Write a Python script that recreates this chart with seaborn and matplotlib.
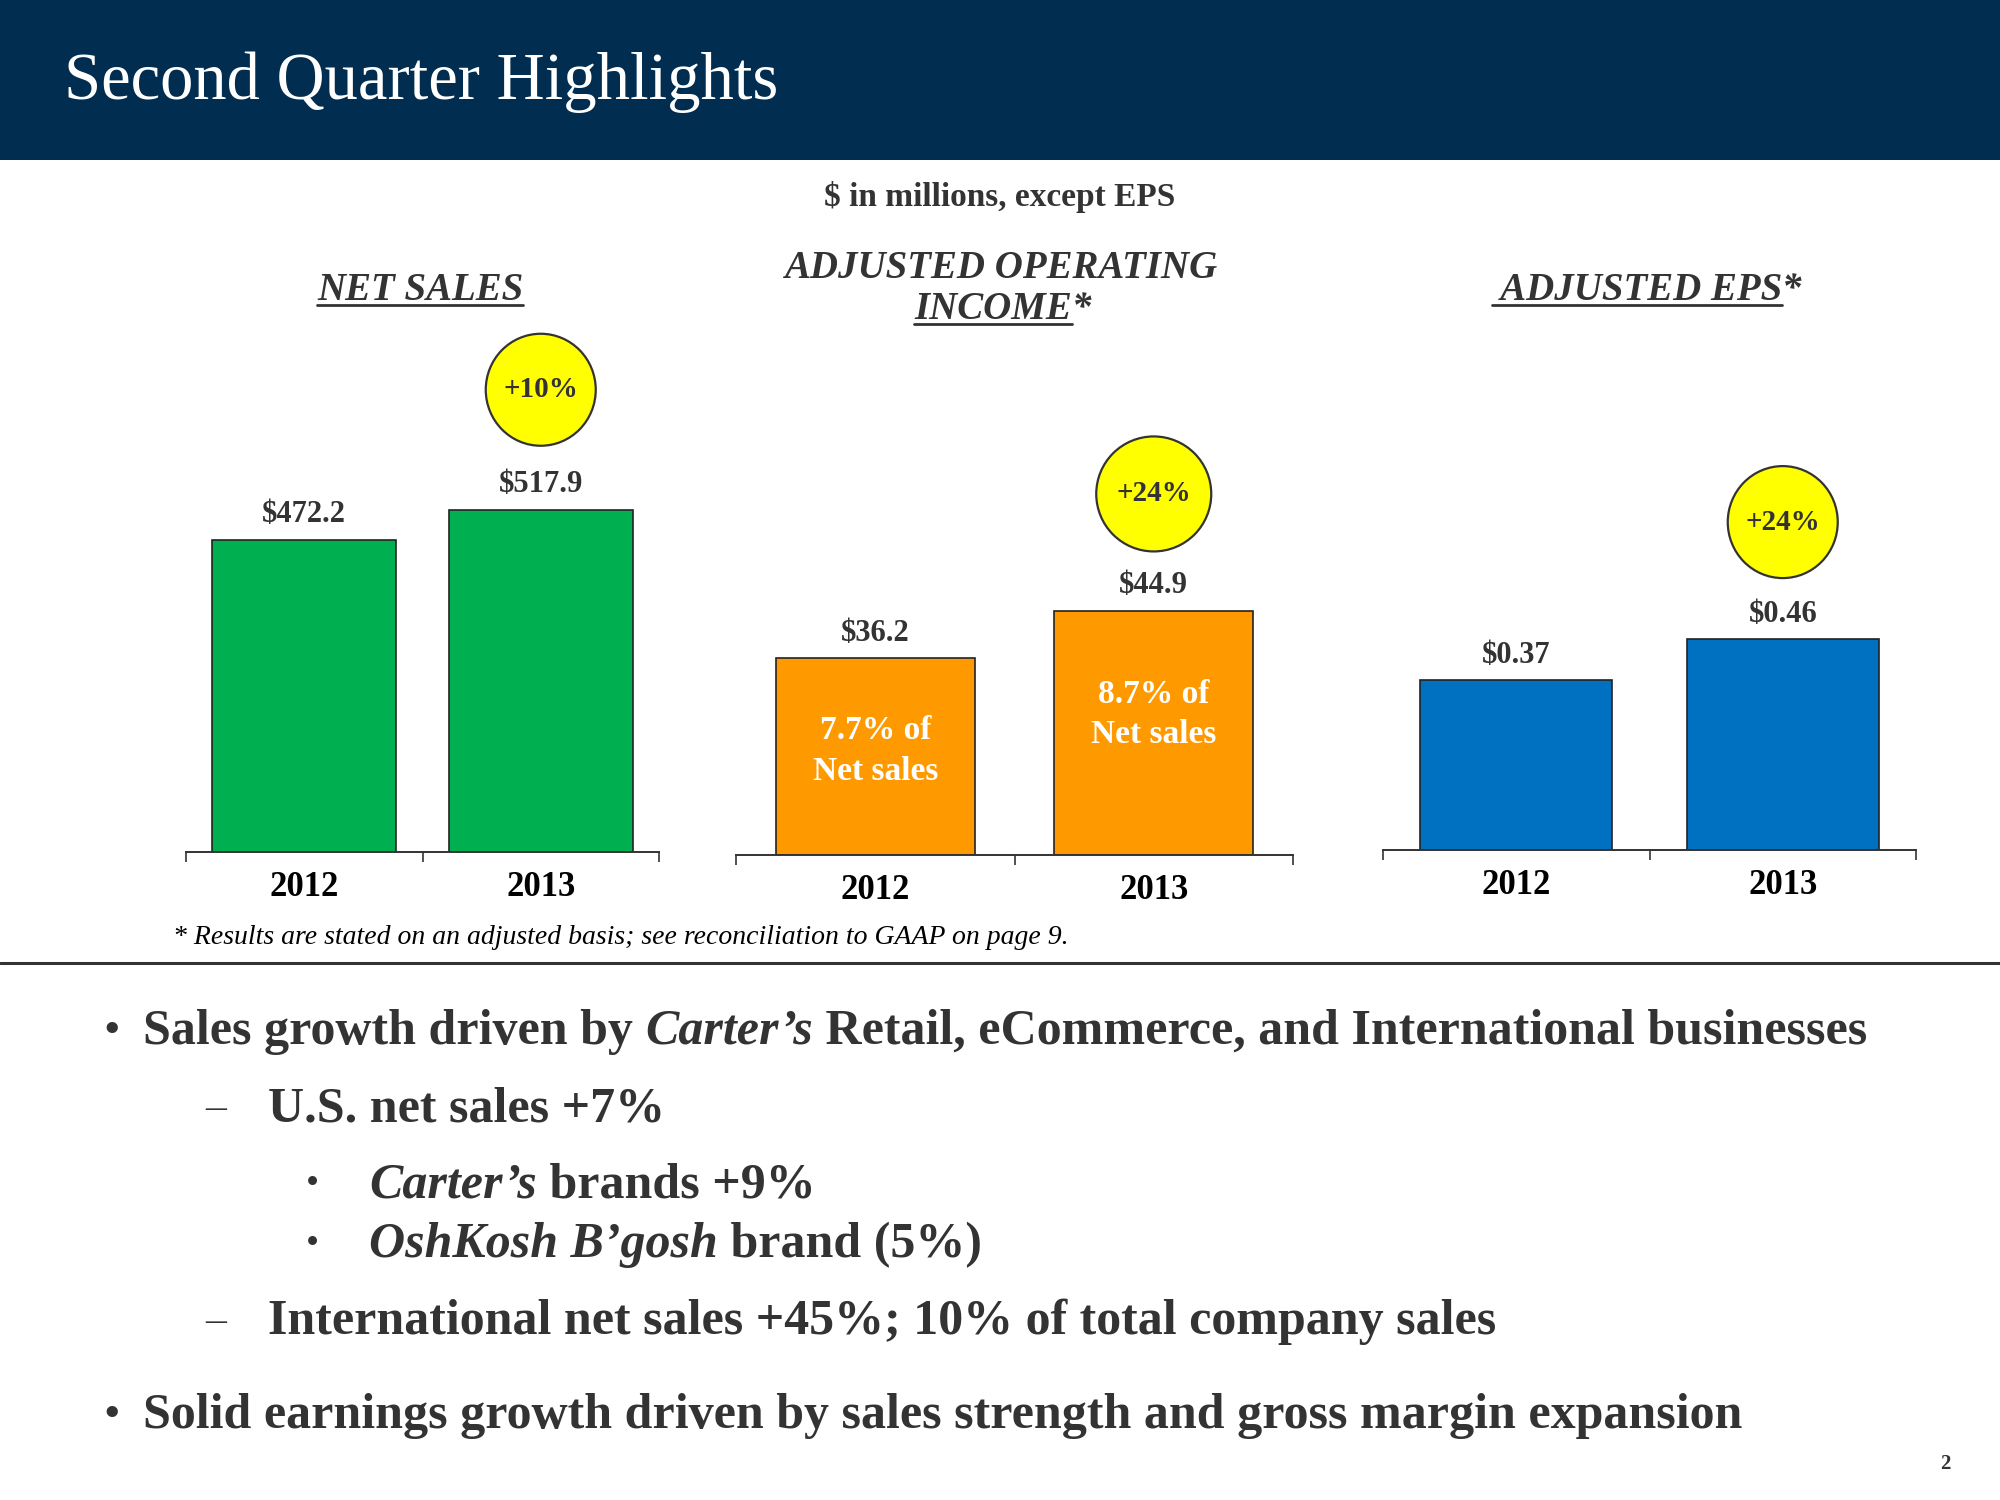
import matplotlib
matplotlib.use('Agg')
import matplotlib.pyplot as plt
import seaborn as sns
import pandas as pd
from matplotlib.patches import Ellipse, Rectangle
from matplotlib.transforms import IdentityTransform
from matplotlib.lines import Line2D

# data
years = ['2012', '2013']
net_sales = [472.2, 517.9]
op_income = [36.2, 44.9]
adj_eps = [0.37, 0.46]
sales_labels = ['$472.2', '$517.9']
income_labels = ['$36.2', '$44.9']
eps_labels = ['$0.37', '$0.46']
margin_labels = ['7.7% of\nNet sales', '8.7% of\nNet sales']
growth_labels = ['+10%', '+24%', '+24%']

W, H = 2000, 1500
TXT = '#333333'

sns.set_style('white')
plt.rcParams['font.family'] = ['Liberation Serif', 'DejaVu Serif']

fig = plt.figure(figsize=(20, 15), dpi=100)
renderer = fig.canvas.get_renderer()


def fx(x):
    return x / W


def fy(y):
    return 1 - y / H


# header band
fig.add_artist(Rectangle((0, fy(160)), 1, 160 / H, transform=fig.transFigure,
                         facecolor='#002D50', edgecolor='none', zorder=0))
fig.text(fx(64), fy(82), 'Second Quarter Highlights', color='white',
         fontsize=48, va='center', ha='left')
fig.text(fx(1000), fy(197), '$ in millions, except EPS', color=TXT,
         fontsize=24, fontweight='bold', va='center', ha='center')


def rich(x, y, parts, size, color=TXT, ha='left', va='center', weight='bold', ul_gap=5):
    # parts: (text, fontstyle, underline)
    items = []
    for txt, style, ul in parts:
        t = fig.text(0, fy(y), txt, fontsize=size, fontweight=weight,
                     fontstyle=style, color=color, va=va, ha='left')
        items.append((t, ul))
    widths = [t.get_window_extent(renderer).width for t, _ in items]
    start = x - sum(widths) / 2 if ha == 'center' else x
    for (t, ul), w in zip(items, widths):
        t.set_x(fx(start))
        if ul:
            fig.add_artist(Line2D([fx(start), fx(start + w)], [fy(y + ul_gap)] * 2,
                                  transform=fig.transFigure, color=color, lw=2))
        start += w


# panel headings
rich(420, 300, [('NET SALES', 'italic', True)], 28, ha='center', va='baseline')
rich(1001, 278, [('ADJUSTED OPERATING', 'italic', False)], 28, ha='center', va='baseline')
rich(1003, 319, [('INCOME', 'italic', True), ('*', 'italic', False)], 28,
     ha='center', va='baseline')
rich(1647, 300, [(' ADJUSTED EPS', 'italic', True), ('*', 'italic', False)], 28,
     ha='center', va='baseline')


def bar_panel(left, right, base, values, labels, color, width, ymax, circ, growth):
    top = 331
    ax = fig.add_axes([fx(left), fy(base), (right - left) / W, (base - top) / H])
    df = pd.DataFrame({'year': years, 'value': values})
    sns.barplot(data=df, x='year', y='value', color=color, width=width,
                saturation=1, edgecolor='#222222', linewidth=1.2,
                errorbar=None, ax=ax)
    ax.set_xlim(-0.5, 1.5)
    ax.set_ylim(0, ymax)
    ax.set_xlabel('')
    ax.set_ylabel('')
    ax.set_yticks([])
    for s in ['left', 'right', 'top']:
        ax.spines[s].set_visible(False)
    ax.spines['bottom'].set_color('#333333')
    ax.spines['bottom'].set_linewidth(1.4)
    ax.set_xticks([-0.5, 0.5, 1.5])
    ax.set_xticklabels(['', '', ''])
    ax.set_xticks([0, 1], minor=True)
    ax.set_xticklabels(years, minor=True, fontsize=25, fontweight='bold', color='black')
    ax.tick_params(axis='x', which='major', bottom=True, length=7, width=1.2,
                   color='#333333', direction='out')
    ax.tick_params(axis='x', which='minor', bottom=True, length=0, pad=14)
    ax.patch.set_alpha(0)
    for i, v in enumerate(values):
        ax.annotate(labels[i], (i, v), xytext=(0, 18), textcoords='offset points',
                    ha='center', va='center', fontsize=22, fontweight='bold', color=TXT)
    # growth bubble above the 2013 bar
    cx, cy = ax.transData.transform((1, values[1]))
    cy += circ[0]
    fig.add_artist(Ellipse((cx, cy), circ[1], circ[2], transform=IdentityTransform(),
                           facecolor='#FFFF00', edgecolor='#333333', lw=1.6))
    fig.text(cx / W, cy / H, growth, ha='center', va='center', fontsize=21,
             fontweight='bold', color=TXT)
    return ax


bar_panel(186, 659, 852, net_sales, sales_labels, '#00B050', 0.776, 788.4,
          (120, 110, 112), growth_labels[0])
ax2 = bar_panel(736, 1293, 855, op_income, income_labels, '#FF9900', 0.716, 96.4,
                (117, 115, 115), growth_labels[1])
inner_frac = [0.53, 0.575]
for i, v in enumerate(op_income):
    ax2.text(i, v * inner_frac[i], margin_labels[i], ha='center', va='center',
             color='white', fontsize=24, fontweight='bold', linespacing=1.4)
bar_panel(1383, 1916, 850, adj_eps, eps_labels, '#0070C0', 0.72, 1.132,
          (117, 110, 112), growth_labels[2])

# footnote and divider
fig.text(fx(173), fy(938),
         '* Results are stated on an adjusted basis; see reconciliation to GAAP on page 9.',
         fontsize=20, fontstyle='italic', color='black', va='center')
fig.add_artist(Line2D([0, 1], [fy(963)] * 2, transform=fig.transFigure,
                      color='#333333', lw=2.2))


def marker(x, y, sym, size):
    fig.text(fx(x), fy(y), sym, fontsize=size, color=TXT, ha='center', va='center')


# bullets
BS = 36
marker(112, 1032, '•', 34)
rich(143, 1032, [('Sales growth driven by ', 'normal', False), ('Carter’s', 'italic', False),
                 (' Retail, eCommerce, and International businesses', 'normal', False)], BS)
marker(216, 1109, '–', 30)
rich(268, 1109, [('U.S. net sales +7%', 'normal', False)], BS)
marker(312, 1185, '•', 27)
rich(369, 1185, [('Carter’s', 'italic', False), (' brands +9%', 'normal', False)], BS)
marker(312, 1245, '•', 27)
rich(369, 1245, [('OshKosh B’gosh', 'italic', False), (' brand (5%)', 'normal', False)], BS)
marker(216, 1322, '–', 30)
rich(268, 1322, [('International net sales +45%; 10% of total company sales', 'normal', False)], BS)
marker(112, 1416, '•', 34)
rich(143, 1416, [('Solid earnings growth driven by sales strength and gross margin expansion',
                  'normal', False)], BS)
fig.text(fx(1945), fy(1464), '2', fontsize=15, fontweight='bold', color=TXT,
         ha='center', va='center')

fig.savefig('out.png', dpi=100)
